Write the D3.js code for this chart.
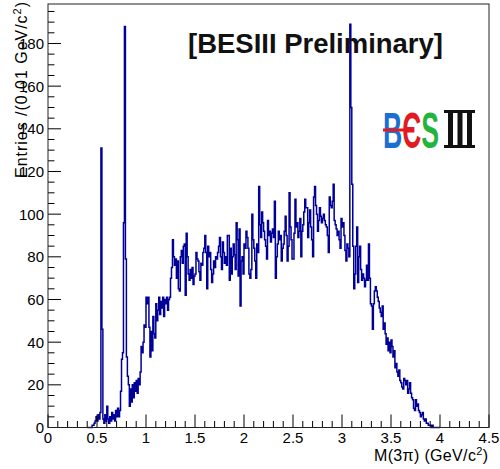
<!DOCTYPE html>
<html>
<head>
<meta charset="utf-8">
<script src="https://cdn.jsdelivr.net/npm/d3@7"></script>
<style>
  body { margin: 0; background: #fff; }
  svg { display: block; }
  text { font-family: "Liberation Sans", Arial, sans-serif; }
</style>
</head>
<body>
<svg id="chart" width="500" height="469"></svg>
<script>
// histogram M(3pi), bins of 0.01 GeV starting at 0.40
const binStart = 0.40
const binWidth = 0.01
const counts = [
    0, 0, 0, 0, 0, 1, 1, 2, 3, 5,            // 0.40
    3, 6, 4, 7, 131, 46, 4, 2, 6, 3,         // 0.50
    10, 4, 2, 5, 3, 7, 4, 6, 3, 8,           // 0.60
    5, 9, 5, 8, 17, 32, 35, 96, 188, 79,     // 0.70
    33, 24, 20, 10, 18, 12, 20, 14, 21, 17,  // 0.80
    22, 16, 23, 20, 26, 38, 35, 40, 48, 47,  // 0.90
    61, 58, 61, 47, 33, 45, 36, 52, 44, 42,  // 1.00
    58, 50, 55, 61, 53, 59, 56, 61, 52, 60,  // 1.10
    58, 61, 55, 60, 61, 70, 75, 88, 80, 76,  // 1.20
    79, 70, 78, 65, 64, 80, 83, 77, 85, 86,  // 1.30
    62, 91, 80, 72, 69, 74, 70, 75, 67, 71,  // 1.40
    72, 82, 79, 78, 73, 69, 77, 76, 82, 84,  // 1.50
    90, 82, 65, 85, 80, 82, 74, 68, 72, 78,  // 1.60
    75, 80, 79, 82, 85, 89, 80, 74, 87, 82,  // 1.70
    77, 80, 76, 90, 90, 69, 84, 72, 80, 86,  // 1.80
    81, 74, 96, 88, 71, 93, 57, 78, 80, 72,  // 1.90
    86, 84, 92, 89, 84, 72, 70, 74, 100, 88, // 2.00
    84, 78, 70, 86, 82, 113, 95, 89, 101, 96,// 2.10
    92, 88, 85, 79, 97, 90, 92, 87, 91, 93,  // 2.20
    89, 106, 70, 80, 86, 92, 88, 90, 78, 84, // 2.30
    86, 92, 99, 90, 78, 85, 110, 94, 88, 79, // 2.40
    79, 91, 107, 94, 96, 89, 92, 98, 80, 92, // 2.50
    95, 101, 107, 103, 103, 89, 96, 102, 94, 88, // 2.60
    80, 108, 113, 104, 100, 92, 97, 103, 99, 96, // 2.70
    98, 100, 97, 95, 94, 90, 82, 108, 104, 103,  // 2.80
    106, 114, 97, 95, 93, 90, 92, 88, 84, 98,    // 2.90
    94, 96, 90, 83, 78, 86, 84, 80, 189, 150,    // 3.00
    114, 85, 65, 72, 85, 94, 68, 80, 85, 74,     // 3.10
    69, 72, 70, 66, 69, 76, 69, 86, 70, 58,  // 3.20
    57, 46, 58, 64, 66, 64, 61, 59, 56, 54,  // 3.30
    52, 57, 46, 49, 44, 39, 42, 36, 40, 35,  // 3.40
    41, 38, 33, 36, 28, 30, 26, 24, 27, 22,  // 3.50
    21, 19, 18, 23, 22, 20, 22, 16, 18, 21,  // 3.60
    16, 14, 13, 9, 8, 13, 10, 11, 8, 7,      // 3.70
    5, 6, 7, 4, 3, 4, 2, 2, 1, 1,            // 3.80
    1, 0, 1, 0, 0, 0, 0, 0, 0, 0             // 3.90
]

const xDomain = [0, 4.5]
const yDomain = [0, 198.5]
const xTitle = "M(3π) (GeV/c"
const yTitle = "Entries /(0.01 GeV/c"
const stamp = "[BESIII Preliminary]"

const svg = d3.select("#chart")
const frame = { left: 48, right: 489, top: 4, bottom: 427.5 }

const x = d3.scaleLinear().domain(xDomain).range([frame.left, frame.right])
const y = d3.scaleLinear().domain(yDomain).range([frame.bottom, frame.top])

// histogram as a step line, like ROOT's default drawing
const bins = counts.map((c, i) => ({ lo: binStart + i * binWidth, n: c }))
const stepPts = [{ lo: binStart, n: 0 }, ...bins, { lo: binStart + counts.length * binWidth, n: 0 }]

const line = d3.line()
    .x(d => x(d.lo))
    .y(d => y(d.n))
    .curve(d3.curveStepAfter)

svg.append("path")
    .datum(stepPts)
    .attr("d", line)
    .attr("fill", "none")
    .attr("stroke", "#000099")
    .attr("stroke-width", 1.5)

// axes, ticks pointing inside the frame
const g = svg.append("g").attr("stroke", "#000")

x.ticks(45).forEach(t => {
    const major = Math.abs(t * 2 - Math.round(t * 2)) < 1e-6
    g.append("line")
        .attr("x1", x(t)).attr("x2", x(t))
        .attr("y1", frame.bottom).attr("y2", frame.bottom - (major ? 13 : 6.5))
})
y.ticks(40).forEach(t => {
    const major = t % 20 === 0
    g.append("line")
        .attr("y1", y(t)).attr("y2", y(t))
        .attr("x1", frame.left).attr("x2", frame.left + (major ? 13 : 6.5))
})

svg.append("rect")
    .attr("x", frame.left).attr("y", frame.top)
    .attr("width", frame.right - frame.left)
    .attr("height", frame.bottom - frame.top)
    .attr("fill", "none")
    .attr("stroke", "#222")
    .attr("stroke-width", 1)

svg.selectAll("text.xlab")
    .data(x.ticks(9))
    .join("text")
    .attr("class", "xlab")
    .attr("x", d => x(d))
    .attr("y", 443)
    .attr("text-anchor", "middle")
    .attr("font-size", 15)
    .text(d => d3.format("")(d))

svg.selectAll("text.ylab")
    .data(y.ticks(10))
    .join("text")
    .attr("class", "ylab")
    .attr("x", 44)
    .attr("y", d => y(d) + 5.5)
    .attr("text-anchor", "end")
    .attr("font-size", 15)
    .text(d => d)

// axis titles
const xt = svg.append("text")
    .attr("x", 488).attr("y", 461)
    .attr("text-anchor", "end")
    .attr("font-size", 16)
    .attr("textLength", 114)
xt.append("tspan").text(xTitle)
xt.append("tspan").attr("font-size", 11).attr("dy", -6).text("2")
xt.append("tspan").attr("dy", 6).text(")")

const yt = svg.append("text")
    .attr("transform", "translate(27,2) rotate(-90)")
    .attr("text-anchor", "end")
    .attr("font-size", 16)
    .attr("textLength", 176)
yt.append("tspan").text(yTitle)
yt.append("tspan").attr("font-size", 11).attr("dy", -6).text("2")
yt.append("tspan").attr("dy", 6).text(")")

// preliminary stamp, fitted to its width in the picture
svg.append("text")
    .attr("x", 188).attr("y", 53)
    .attr("font-family", "Lato, 'Open Sans', sans-serif")
    .attr("font-weight", 700)
    .attr("font-size", 28)
    .attr("textLength", 255)
    .attr("lengthAdjust", "spacingAndGlyphs")
    .attr("fill", "#111")
    .text(stamp)

// BESIII logo
const logo = svg.append("g").attr("font-weight", 700)
const bes = logo.append("text").attr("x", 383).attr("y", 148).attr("font-size", 50)
    .attr("textLength", 56).attr("lengthAdjust", "spacingAndGlyphs")
bes.append("tspan").attr("fill", "#1a6fd0").text("B")
bes.append("tspan").attr("fill", "#e21b23").text("Є")
bes.append("tspan").attr("fill", "#23b43c").text("S")
logo.append("line")
    .attr("x1", 383).attr("x2", 414).attr("y1", 130).attr("y2", 130)
    .attr("stroke", "#e21b23").attr("stroke-width", 3)
const roman = logo.append("g").attr("fill", "#111")
roman.append("rect").attr("x", 444).attr("y", 110).attr("width", 31).attr("height", 3)
roman.append("rect").attr("x", 444).attr("y", 145).attr("width", 31).attr("height", 3)
;[448, 457.5, 467].forEach(px => {
    roman.append("rect").attr("x", px).attr("y", 112).attr("width", 5).attr("height", 34)
})
</script>
</body>
</html>
